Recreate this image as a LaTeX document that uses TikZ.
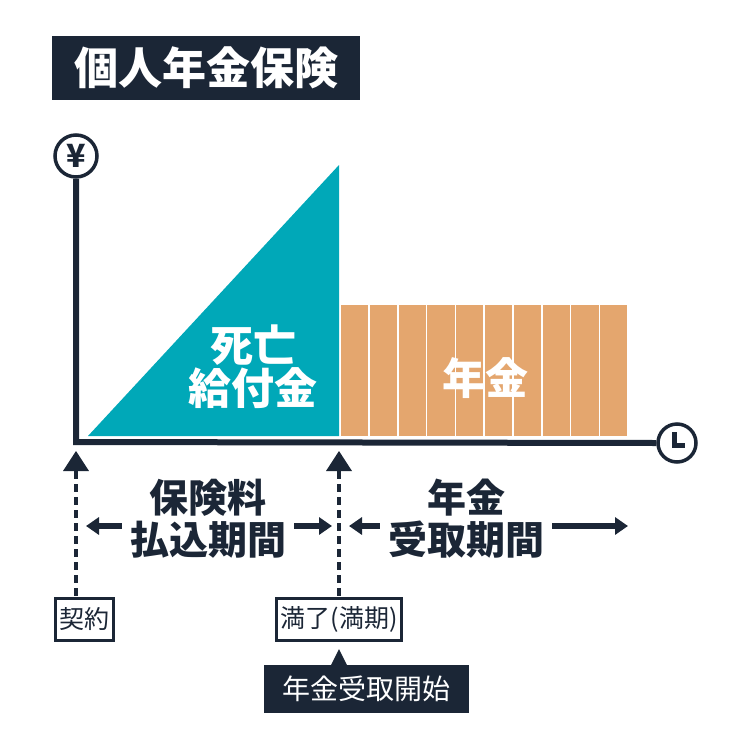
\documentclass[tikz,border=0pt]{standalone}
\usepackage{fontspec}
\setmainfont{Noto Sans CJK JP}
\usetikzlibrary{arrows.meta}
\definecolor{dk}{HTML}{1B2636}
\definecolor{teal}{HTML}{00A8B8}
\definecolor{org}{HTML}{E4A66E}
\tikzset{
 wt/.style={text=white,font=\bfseries\fontsize{43}{45}\selectfont,inner sep=0},
 dt/.style={text=dk,font=\bfseries\fontsize{39}{41}\selectfont,inner sep=0},
 lbl/.style={draw=dk,line width=3pt,fill=white,text=dk,font=\fontsize{25}{27}\selectfont,inner sep=4pt,minimum height=42pt},
 harr/.style={-{Triangle[length=13pt,width=17pt]},line width=6pt,dk},
 dsh/.style={dk,line width=4pt,dash pattern=on 8pt off 5pt},
 up/.style={fill=dk,draw=none}
}
\begin{document}
\begin{tikzpicture}[x=1pt,y=-1pt]
\useasboundingbox (0,0) rectangle (750,750);
% title
\node[fill=dk,text=white,font=\bfseries\fontsize{44}{46}\selectfont,minimum width=308pt,minimum height=64pt,anchor=north west] (title) at (52,36) {個人年金保険};
% axes
\node[circle,draw=dk,line width=3.5pt,minimum size=42pt,inner sep=0,text=dk,font=\bfseries\fontsize{32}{32}\selectfont] (yen) at (76,156) {¥};
\node[circle,draw=dk,line width=3.5pt,minimum size=38pt,inner sep=0] (clk) at (677,443) {};
\draw[dk,line width=5pt] (clk.center) ++(-3,-11) -- ++(0,13) -- ++(11,0);
\coordinate (O) at (76,442);
\draw[dk,line width=6pt] (yen.south) -- (O) -- (clk.west);
% triangle
\fill[teal] (88,436) -- (339,165) -- (339,436) -- cycle;
% bars
\foreach \i in {0,...,9}{\fill[org] (341+\i*28.8,305) rectangle (341+\i*28.8+27.2,436);}
\node[wt] (death1) at (253,345) {死亡};
\node[wt] (death2) at (253,388) {給付金};
\node[wt] (nenkin) at (485,378) {年金};
% up arrows
\coordinate (a1) at (76,451);
\coordinate (a2) at (339,451);
\fill[up] (a1) -- ++(-13,20) -- ++(26,0) -- cycle;
\fill[up] (a2) -- ++(-13,20) -- ++(26,0) -- cycle;
% labels
\node[lbl] (kei) at (84,619) {契約};
\node[lbl] (man) at (339,619) {満了(満期)};
\node[fill=dk,text=white,font=\fontsize{28}{30}\selectfont,minimum width=205pt,minimum height=48pt] (start) at (366,689) {年金受取開始};
\fill[dk] (339,649) -- (331,665) -- (347,665) -- cycle;
\draw[dsh] (76,471) -- (kei.north -| a1);
\draw[dsh] (339,471) -- (man.north);
% period texts
\node[dt] (p1) at (208,498) {保険料};
\node[dt] (p2) at (208,540) {払込期間};
\node[dt] (r1) at (466,498) {年金};
\node[dt] (r2) at (466,540) {受取期間};
\coordinate (l1) at (86,526); \coordinate (l2) at (332,526);
\coordinate (m1) at (349,526); \coordinate (m2) at (628,526);
\draw[harr] (p2.west |- l1) ++(-8,0) -- (l1);
\draw[harr] (p2.east |- l2) ++(8,0) -- (l2);
\draw[harr] (r2.west |- m1) ++(-8,0) -- (m1);
\draw[harr] (r2.east |- m2) ++(8,0) -- (m2);
\end{tikzpicture}
\end{document}
